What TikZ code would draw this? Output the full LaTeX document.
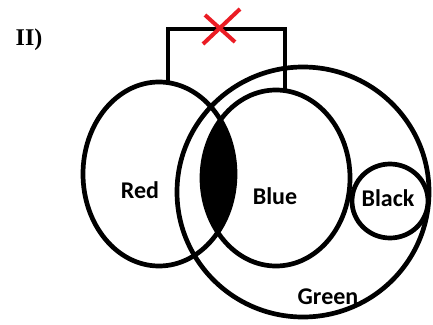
\documentclass[tikz,border=0pt]{standalone}
\usepackage{fontspec}
\setmainfont{Carlito}
\newfontfamily\serifbold{Liberation Serif}
\begin{document}
\begin{tikzpicture}[x=1pt,y=-1pt,
  ring/.style={draw=black,line width=4.7pt},
  lbl/.style={font=\fontsize{24}{27}\selectfont\bfseries,text=black,inner sep=0pt},
  xmark/.style={draw={rgb,255:red,235;green,28;blue,36},line width=4pt}]
\useasboundingbox[fill=white] (0,0) rectangle (433,324);
% filled lens Red cap Blue
\begin{scope}
  \clip (159,174) ellipse [x radius=76, y radius=92];
  \fill[black] (276,178) ellipse [x radius=74, y radius=88];
\end{scope}
\draw[ring] (159,174) ellipse [x radius=76, y radius=92];
\draw[ring] (276,178) ellipse [x radius=74, y radius=88];
\draw[ring] (303,192) ellipse [x radius=126, y radius=125];
\draw[ring] (390,201) ellipse [x radius=38, y radius=37];
% named anchors on tops
\coordinate (rtop) at (168,83);
\coordinate (btop) at (285,92);
\coordinate (c1) at (168,29);
\coordinate (c2) at (285,29);
\draw[ring,line join=miter] (rtop) -- (c1) -- (c2) -- (btop);
% red cross
\coordinate (xa) at (203,44);
\coordinate (xb) at (240,9);
\coordinate (xc) at (205,15);
\coordinate (xd) at (235,42);
\draw[xmark] (xa) -- (xb);
\draw[xmark] (xc) -- (xd);
% labels
\node[lbl] (red) at (140,190) {Red};
\node[lbl] (blue) at (275,196) {Blue};
\node[lbl] (black) at (388,198) {Black};
\node[lbl] (green) at (328,297) {Green};
\node[inner sep=0pt,font=\serifbold\fontsize{24}{26}\selectfont\bfseries] (num) at (29,40) {II)};
\end{tikzpicture}
\end{document}
